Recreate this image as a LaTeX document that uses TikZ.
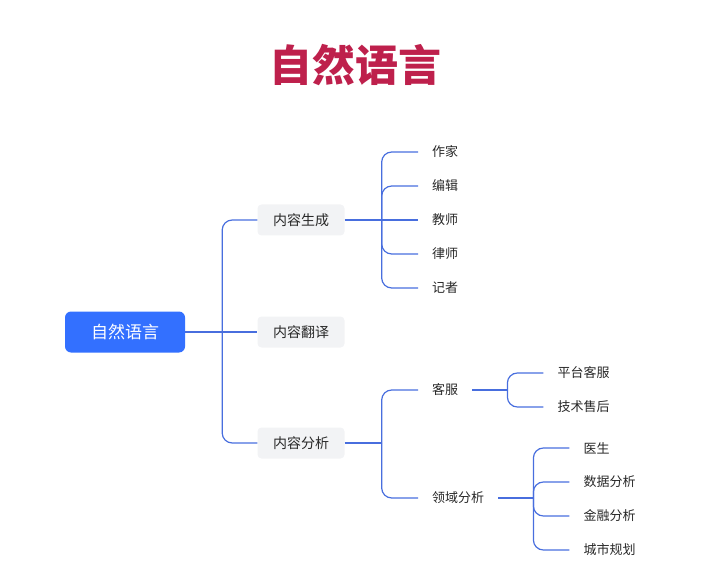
\documentclass[tikz,border=0pt]{standalone}
\usepackage{fontspec}
\newfontfamily\cjk{Noto Sans CJK SC}
\usepackage{xcolor}
\definecolor{nlblue}{RGB}{51,112,255}
\definecolor{nlline}{RGB}{72,110,222}
\definecolor{nlgray}{RGB}{242,243,245}
\definecolor{nltext}{RGB}{40,40,40}
\definecolor{nltitle}{RGB}{190,32,76}
\usetikzlibrary{positioning}
\tikzset{
  rootbox/.style={rounded corners=6pt, fill=#1, text=white,
                  font=\cjk\fontsize{17}{20}\selectfont,
                  minimum width=120pt, minimum height=41pt},
  topic/.style={rounded corners=4pt, fill=#1, text=nltext,
                font=\cjk\fontsize{14}{17}\selectfont,
                minimum width=87pt, minimum height=31pt},
  leaf/.style={anchor=west, inner xsep=14pt, text=nltext,
               font=\cjk\fontsize{13}{16}\selectfont},
  link/.style={draw=nlline, line width=1.2pt, rounded corners=10pt},
}

\begin{document}
\begin{tikzpicture}[x=1pt, y=-1pt]
  \useasboundingbox (0,0) rectangle (720,577);
  % Title
  \node[font=\cjk\bfseries\fontsize{43}{48}\selectfont, text=nltitle] (title) at (355,65) {自然语言};

  % Root and first level
  \node[rootbox=nlblue] (root) at (125,332) {自然语言};
  \node[topic=nlgray] (gen) at (301,220) {内容生成};
  \node[topic=nlgray] (trans) at (301,332) {内容翻译};
  \node[topic=nlgray] (ana) at (301,443) {内容分析};
  \coordinate[right=37pt of root.east] (rootfork);
  \draw[link] (root.east) -- (trans.west);
  \draw[link] (rootfork) |- (gen.west);
  \draw[link] (rootfork) |- (ana.west);

  % Content generation
  \coordinate[right=37pt of gen.east] (genfork);
  \node[leaf] (teacher) at (418,220) {教师};
  \draw[link] (gen.east) -- (teacher.west);
  \foreach \name/\txt/\y in {writer/作家/152, editor/编辑/186, lawyer/律师/254, reporter/记者/288}{
    \node[leaf] (\name) at (418,\y) {\txt};
    \draw[link] (genfork) |- (\name.west);
  }

  % Content analysis
  \node[leaf] (service) at (418,390) {客服};
  \node[leaf] (domain) at (418,498) {领域分析};
  \coordinate[right=37pt of ana.east] (anafork);
  \draw[link] (ana.east) -- (anafork);
  \draw[link] (anafork) |- (service.west);
  \draw[link] (anafork) |- (domain.west);

  % Customer service
  \coordinate[right=35pt of service.east] (servfork);
  \draw[link] (service.east) -- (servfork);
  \foreach \name/\txt/\y in {platform/平台客服/373, support/技术售后/407}{
    \node[leaf] (\name) at ([xshift=36pt]servfork |- 0,\y) {\txt};
    \draw[link] (servfork) |- (\name.west);
  }

  % Domain analysis
  \coordinate[right=35pt of domain.east] (domfork);
  \draw[link] (domain.east) -- (domfork);
  \foreach \name/\txt/\y in {doctor/医生/448, data/数据分析/482, finance/金融分析/516, city/城市规划/550}{
    \node[leaf] (\name) at ([xshift=36pt]domfork |- 0,\y) {\txt};
    \draw[link] (domfork) |- (\name.west);
  }
\end{tikzpicture}
\end{document}
